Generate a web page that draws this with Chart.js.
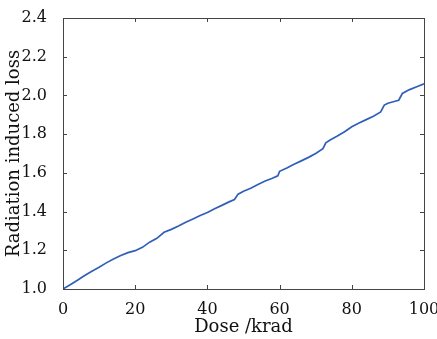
<!DOCTYPE html>
<html>
<head>
<meta charset="utf-8">
<script src="https://cdn.jsdelivr.net/npm/chart.js@4.4.1/dist/chart.umd.min.js"></script>
<style>
  html, body { margin: 0; padding: 0; background: #fff; }
  #wrap { width: 437px; height: 339px; }
</style>
</head>
<body>
<div id="wrap"><canvas id="lossChart"></canvas></div>
<script>
// values
const doseKrad = [0, 2, 4, 6, 8, 10, 12, 14, 16, 18, 20, 22, 24, 26, 28, 30, 32, 34, 36, 38,
  40, 42, 44, 46, 47.5, 48.5, 50, 52, 54, 56, 58, 59.5, 60, 62, 64, 66, 68, 70, 72, 72.8,
  74, 76, 78, 80, 82, 84, 86, 88, 89, 90, 92, 93, 94, 96, 98, 100];
const loss = [1.000, 1.022, 1.045, 1.070, 1.092, 1.112, 1.135, 1.155, 1.173, 1.188, 1.198,
  1.215, 1.242, 1.262, 1.293, 1.308, 1.325, 1.345, 1.362, 1.380, 1.395, 1.415, 1.432, 1.450,
  1.462, 1.490, 1.505, 1.520, 1.540, 1.558, 1.572, 1.585, 1.608, 1.625, 1.645, 1.662, 1.680,
  1.700, 1.725, 1.755, 1.770, 1.790, 1.812, 1.838, 1.858, 1.875, 1.893, 1.915, 1.950, 1.960,
  1.970, 1.975, 2.010, 2.030, 2.045, 2.060];
const xTicks = [0, 20, 40, 60, 80, 100];
const yTicks = [1.0, 1.2, 1.4, 1.6, 1.8, 2.0, 2.2, 2.4];

const serif = "'DejaVu Serif', serif";
const axisColor = '#444';

// box round the plot with inward ticks on all four sides
const boxTicks = {
  id: 'boxTicks',
  afterDraw(chart) {
    const { ctx, chartArea: a, scales } = chart;
    const len = 4;
    ctx.save();
    ctx.strokeStyle = axisColor;
    ctx.lineWidth = 1;
    ctx.strokeRect(a.left + 0.5, a.top + 0.5, a.right - a.left, a.bottom - a.top);
    ctx.beginPath();
    xTicks.forEach(v => {
      const px = Math.round(scales.x.getPixelForValue(v)) + 0.5;
      ctx.moveTo(px, a.bottom); ctx.lineTo(px, a.bottom - len);
      ctx.moveTo(px, a.top); ctx.lineTo(px, a.top + len);
    });
    yTicks.forEach(v => {
      const py = Math.round(scales.y.getPixelForValue(v)) + 0.5;
      ctx.moveTo(a.left, py); ctx.lineTo(a.left + len, py);
      ctx.moveTo(a.right, py); ctx.lineTo(a.right - len, py);
    });
    ctx.stroke();
    ctx.restore();
  }
};

new Chart(document.getElementById('lossChart'), {
  type: 'line',
  data: {
    datasets: [{
      data: doseKrad.map((d, i) => ({ x: d, y: loss[i] })),
      borderColor: '#2f5fb8',
      borderWidth: 1.7,
      pointRadius: 0,
      tension: 0,
      fill: false
    }]
  },
  options: {
    responsive: true,
    maintainAspectRatio: false,
    animation: false,
    layout: { padding: { top: 18, right: 13, left: 0, bottom: 0 } },
    plugins: { legend: { display: false }, tooltip: { enabled: false } },
    scales: {
      x: {
        type: 'linear',
        min: 0, max: 100,
        afterBuildTicks: s => { s.ticks = xTicks.map(v => ({ value: v })); },
        afterFit: s => { s.height = 50; s.paddingRight = 0; s.paddingLeft = 0; },
        grid: { display: false },
        border: { display: false },
        ticks: { color: '#111', padding: 3, maxRotation: 0, font: { family: serif, size: 16 } },
        title: {
          display: true, text: 'Dose /krad', color: '#111',
          padding: { top: 0, bottom: 1 },
          font: { family: serif, size: 18 }
        }
      },
      y: {
        min: 1.0, max: 2.4,
        afterBuildTicks: s => { s.ticks = yTicks.map(v => ({ value: v })); },
        afterFit: s => { s.width = 63; s.paddingTop = 0; s.paddingBottom = 0; },
        grid: { display: false },
        border: { display: false },
        ticks: {
          color: '#111', padding: 8, font: { family: serif, size: 16 },
          callback: v => v.toFixed(1)
        },
        title: {
          display: true, text: 'Radiation induced loss', color: '#111',
          padding: { top: 4, bottom: 0 },
          font: { family: serif, size: 18 }
        }
      }
    }
  },
  plugins: [boxTicks]
});
</script>
</body>
</html>
